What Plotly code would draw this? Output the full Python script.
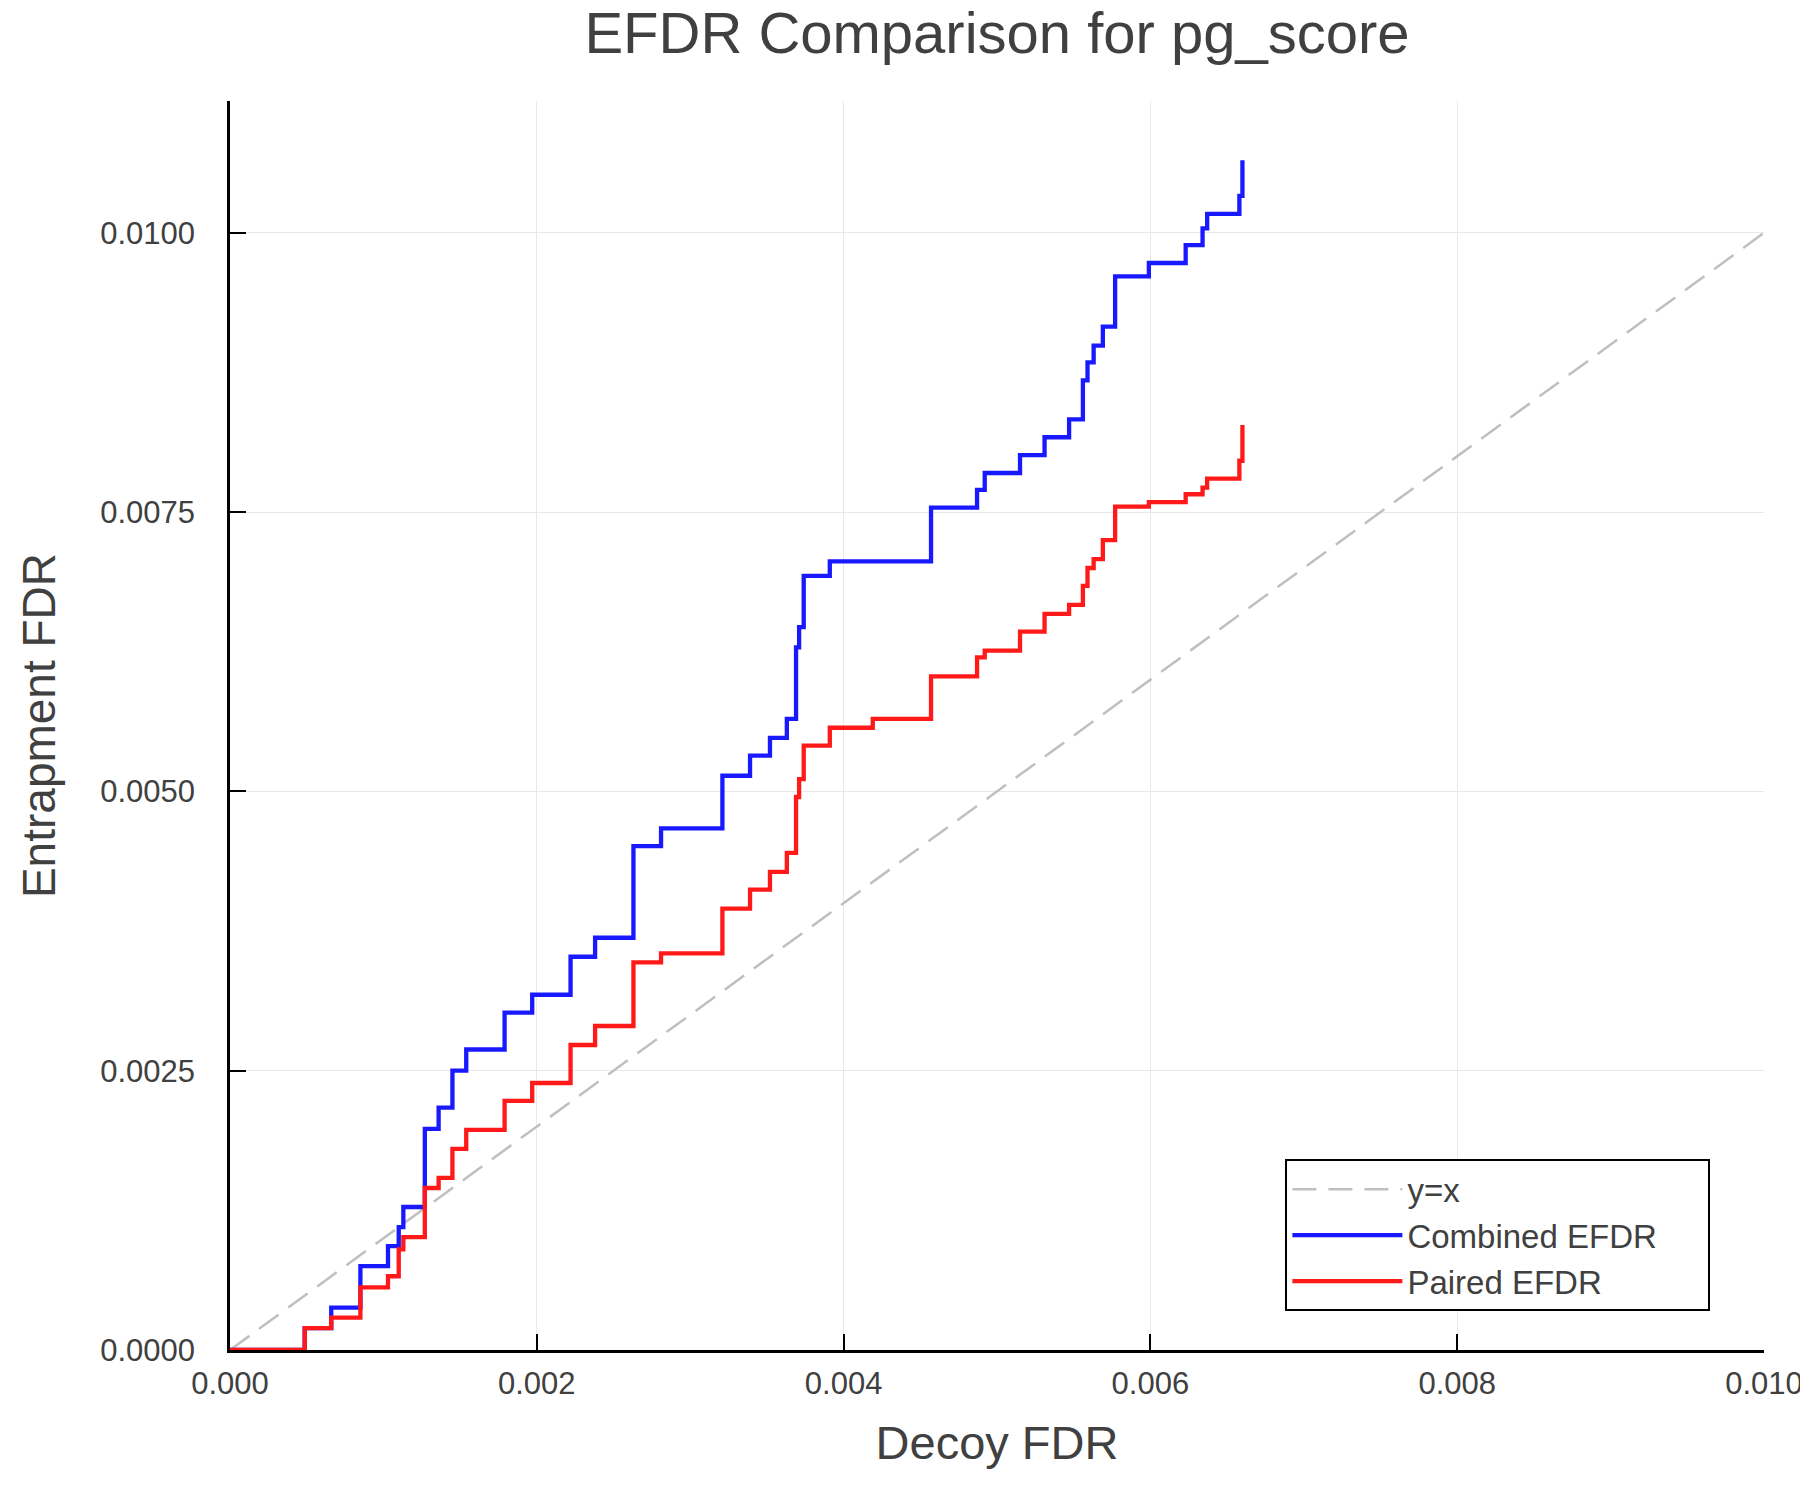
import plotly.graph_objects as go

# Shared step positions (Decoy FDR) where each curve jumps to its new value
decoy_fdr = [0.0, 0.000487, 0.00066, 0.00085, 0.00103, 0.0011, 0.00113, 0.00127,
             0.00136, 0.00145, 0.00154, 0.00179, 0.00197, 0.00222, 0.00238, 0.00263,
             0.00281, 0.00321, 0.00339, 0.00352, 0.00363, 0.00369, 0.00371, 0.00374,
             0.00391, 0.00457, 0.00487, 0.00492, 0.00515, 0.00531, 0.00547, 0.00556,
             0.00559, 0.00563, 0.00569, 0.00577, 0.00599, 0.00623, 0.00634, 0.00637,
             0.00658, 0.0066]

combined_efdr = [0.0, 0.000195, 0.00038, 0.00075, 0.00093, 0.0011, 0.00128, 0.00198,
                 0.00217, 0.0025, 0.00269, 0.00302, 0.00318, 0.00352, 0.00369, 0.00451,
                 0.00467, 0.00514, 0.00532, 0.00548, 0.00565, 0.00629, 0.00647, 0.00693,
                 0.00706, 0.00754, 0.0077, 0.00785, 0.00801, 0.00817, 0.00833, 0.00868,
                 0.00884, 0.00899, 0.00916, 0.00961, 0.00973, 0.00989, 0.01004, 0.01017,
                 0.01033, 0.01065]

paired_efdr = [0.0, 0.000195, 0.00029, 0.00056, 0.00066, 0.0009, 0.00101, 0.00145,
               0.00154, 0.0018, 0.00197, 0.00223, 0.00239, 0.00273, 0.0029, 0.00347,
               0.00355, 0.00395, 0.00412, 0.00428, 0.00445, 0.00495, 0.00511, 0.00541,
               0.00557, 0.00603, 0.0062, 0.00626, 0.00643, 0.00659, 0.00667, 0.00684,
               0.007, 0.00708, 0.00725, 0.00755, 0.00759, 0.00766, 0.00772, 0.0078,
               0.00796, 0.00828]

# Red curve has one extra small step
paired_extra_x = 0.00419
paired_extra_y = 0.00565

diag = [0.0, 0.010]

series_names = ["y=x", "Combined EFDR", "Paired EFDR"]

x_ticks = [0.000, 0.002, 0.004, 0.006, 0.008, 0.010]
x_labels = ["0.000", "0.002", "0.004", "0.006", "0.008", "0.010"]
y_ticks = [0.0, 0.0025, 0.0050, 0.0075, 0.0100]
y_labels = ["0.0000", "0.0025", "0.0050", "0.0075", "0.0100"]

px = list(decoy_fdr)
py = list(paired_efdr)
idx = next(i for i, v in enumerate(px) if v > paired_extra_x)
px.insert(idx, paired_extra_x)
py.insert(idx, paired_extra_y)

FONT = "Liberation Sans, Arial, sans-serif"
TXT = "#404040"
PAD = "\u00a0" * 5  # right padding inside the legend box

fig = go.Figure()
fig.add_trace(go.Scatter(x=diag, y=diag, mode="lines", name=series_names[0],
                         line=dict(color="#bfbfbf", width=2.5, dash="24px,12px")))
fig.add_trace(go.Scatter(x=decoy_fdr, y=combined_efdr, mode="lines",
                         name=series_names[1] + PAD,
                         line=dict(color="rgb(25,25,255)", width=4.3, shape="hv")))
fig.add_trace(go.Scatter(x=px, y=py, mode="lines", name=series_names[2],
                         line=dict(color="rgb(255,25,25)", width=4.3, shape="hv")))

fig.update_layout(
    width=1800, height=1500,
    paper_bgcolor="white", plot_bgcolor="white",
    margin=dict(l=230, r=36, t=101, b=150, autoexpand=False),
    title=dict(text="EFDR Comparison for pg_score", x=0.5, xref="paper", xanchor="center",
               y=0.978, yanchor="middle", automargin=False,
               font=dict(family=FONT, size=58, color=TXT)),
    font=dict(family=FONT, color=TXT),
    showlegend=True,
    legend=dict(x=0.688, y=0.031, xanchor="left", yanchor="bottom",
                bgcolor="white", bordercolor="black", borderwidth=2,
                font=dict(family=FONT, size=33, color=TXT),
                itemwidth=110, tracegroupgap=0),
)
fig.update_xaxes(range=[0, 0.010], tickvals=x_ticks, ticktext=x_labels,
                 showline=True, linecolor="black", linewidth=2.5, mirror=False,
                 ticks="inside", ticklen=16, tickwidth=2, tickcolor="black",
                 showgrid=True, gridcolor="#e8e8e8", gridwidth=1.2, zeroline=False,
                 tickfont=dict(size=31, color=TXT), ticklabelstandoff=4,
                 ticklabeloverflow="allow", automargin=False,
                 title=dict(text="Decoy FDR", font=dict(size=47, color=TXT), standoff=27))
fig.update_yaxes(range=[0, 0.01118], tickvals=y_ticks, ticktext=y_labels,
                 showline=True, linecolor="black", linewidth=2.5, mirror=False,
                 ticks="inside", ticklen=16, tickwidth=2, tickcolor="black",
                 showgrid=True, gridcolor="#e8e8e8", gridwidth=1.2, zeroline=False,
                 tickfont=dict(size=31, color=TXT), ticklabelstandoff=26, automargin=False,
                 title=dict(text="Entrapment FDR", font=dict(size=46, color=TXT), standoff=31))

clip_js = (
    "document.documentElement.style.margin='0';"
    "document.documentElement.style.overflow='hidden';"
    "document.body.style.margin='0';"
    "document.body.style.overflow='hidden';"
    "document.querySelectorAll('.plotly-graph-div, .svg-container, .main-svg')"
    ".forEach(function(e){e.style.overflow='hidden';});"
)

fig.write_html("out.html", config={"displayModeBar": False}, post_script=clip_js)
